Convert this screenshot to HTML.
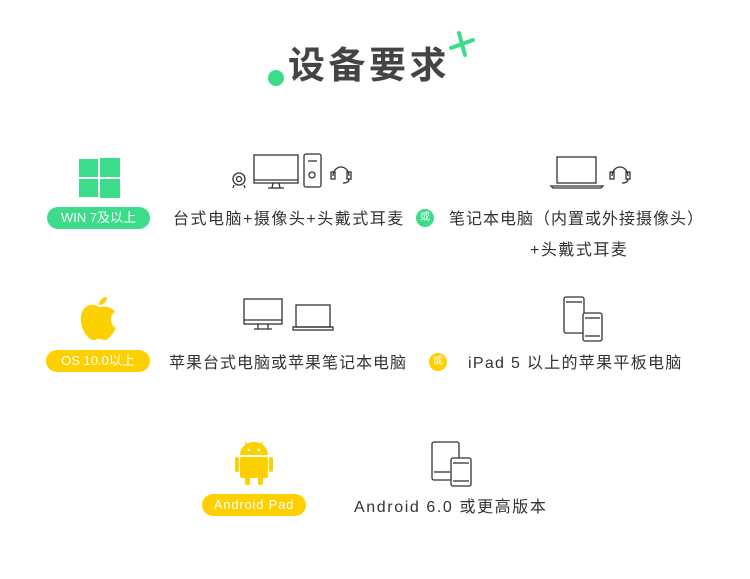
<!DOCTYPE html>
<html><head><meta charset="utf-8"><style>
body{margin:0;width:750px;height:579px;background:#fff;position:relative;overflow:hidden;font-family:"Liberation Sans","Noto Sans CJK SC",sans-serif;color:#333}
.t{position:absolute;white-space:nowrap;font-size:16px;line-height:20px;letter-spacing:1px}
.b{position:absolute;border-radius:11px;color:#fff;font-size:13px;text-align:center;height:22px;line-height:22px}
.o{position:absolute;width:18px;height:18px;border-radius:9px;color:#fff;font-size:10px;text-align:center;line-height:18px}
svg{position:absolute;left:0;top:0}
</style></head><body>
<div class="t" style="left:288px;top:44px;font-size:37px;line-height:44px;font-weight:bold;color:#444;letter-spacing:3.5px">设备要求</div>
<div class="b" style="left:47px;top:207px;width:103px;background:#3ddc8a">WIN 7及以上</div>
<div class="t" style="left:173px;top:210px;letter-spacing:1.5px">台式电脑+摄像头+头戴式耳麦</div>
<div class="o" style="left:416px;top:209px;background:#3ddc8a">或</div>
<div class="t" style="left:449px;top:210px">笔记本电脑（内置或外接摄像头）</div>
<div class="t" style="left:530px;top:241px;letter-spacing:1.5px">+头戴式耳麦</div>
<div class="b" style="left:46px;top:350px;width:104px;background:#fdd000">OS 10.0以上</div>
<div class="t" style="left:169px;top:354px">苹果台式电脑或苹果笔记本电脑</div>
<div class="o" style="left:429px;top:353px;background:#fdd000">或</div>
<div class="t" style="left:468px;top:354px;letter-spacing:1.3px">iPad 5 以上的苹果平板电脑</div>
<div class="b" style="left:202px;top:494px;width:104px;background:#fdd000;letter-spacing:0.8px">Android Pad</div>
<div class="t" style="left:354px;top:498px;letter-spacing:1.6px">Android 6.0 或更高版本</div>
<svg width="750" height="579" fill="none" stroke="#333" stroke-width="1.3">
<circle cx="276" cy="78" r="8" fill="#3ddc8a" stroke="none"/>
<g stroke="#3ddc8a" stroke-width="4" stroke-linecap="round"><line x1="459" y1="33" x2="465" y2="55"/><line x1="451" y1="48" x2="473" y2="40"/></g>
<g fill="#3ddc8a" stroke="none"><rect x="79" y="159" width="19" height="18"/><rect x="100" y="158" width="20" height="19"/><rect x="79" y="179" width="19" height="18"/><rect x="100" y="179" width="20" height="19"/></g>
<circle cx="239" cy="179" r="6"/><circle cx="239" cy="179" r="2.5"/><line x1="234" y1="185" x2="233" y2="188"/><line x1="244" y1="185" x2="245" y2="188"/>
<rect x="254" y="155" width="44" height="28"/><line x1="254" y1="180" x2="298" y2="180"/><line x1="268" y1="188" x2="284" y2="188"/><line x1="273" y1="183" x2="272" y2="188"/><line x1="279" y1="183" x2="280" y2="188"/>
<rect x="304" y="154" width="17" height="33" rx="2"/><line x1="308" y1="161" x2="317" y2="161"/><circle cx="312" cy="175" r="3"/>
<path d="M333 176 a8 9 0 0 1 16 0"/><rect x="331" y="172" width="4" height="7"/><rect x="347" y="172" width="4" height="7"/><path d="M349 179 q0 4 -6 4"/>
<rect x="557" y="157" width="39" height="26"/><path d="M551 186 h52 l-2 2 h-48z"/>
<path d="M612 176 a8 9 0 0 1 16 0"/><rect x="610" y="172" width="4" height="7"/><rect x="626" y="172" width="4" height="7"/><path d="M628 179 q0 4 -6 4"/>
<g fill="#fdd000" stroke="none"><path d="M99 307 c-5 -4 -17 -3 -18 10 c-1 13 8 23 12 23 c3 0 4 -1 6 -1 c2 0 3 1 6 1 c4 0 9 -8 11 -12 c-6 -3 -7 -13 -1 -16 c-3 -5 -10 -6 -16 -5z"/><path d="M99 305 c0 -5 4 -8 8 -8 c0 5 -4 8 -8 8z"/></g>
<rect x="244" y="299" width="38" height="25"/><line x1="244" y1="320" x2="282" y2="320"/><path d="M258 324 v5 h-4 h18 h-4 v-5"/>
<rect x="296" y="305" width="34" height="22"/><rect x="293" y="327" width="40" height="3"/>
<rect x="564" y="297" width="20" height="36" rx="2"/><rect x="583" y="313" width="19" height="28" rx="2" fill="#fff"/><line x1="566" y1="302" x2="582" y2="302"/><line x1="585" y1="318" x2="600" y2="318"/><line x1="585" y1="336" x2="600" y2="336"/>
<g fill="#fdd000" stroke="none"><path d="M240 455 a14 13 0 0 1 28 0z"/><rect x="240" y="457" width="28" height="21" rx="2"/><rect x="235" y="457" width="4" height="15" rx="2"/><rect x="269" y="457" width="4" height="15" rx="2"/><rect x="245" y="474" width="5" height="11" rx="2"/><rect x="258" y="474" width="5" height="11" rx="2"/></g>
<g stroke="#fdd000"><line x1="245" y1="442" x2="248" y2="446"/><line x1="263" y1="442" x2="260" y2="446"/></g>
<circle cx="249" cy="450" r="1.3" fill="#fff" stroke="none"/><circle cx="259" cy="450" r="1.3" fill="#fff" stroke="none"/>
<rect x="432" y="442" width="27" height="38" rx="2"/><rect x="451" y="458" width="20" height="28" rx="2" fill="#fff"/><line x1="434" y1="472" x2="450" y2="472"/><line x1="453" y1="463" x2="469" y2="463"/><line x1="453" y1="481" x2="469" y2="481"/>
</svg>
</body></html>
